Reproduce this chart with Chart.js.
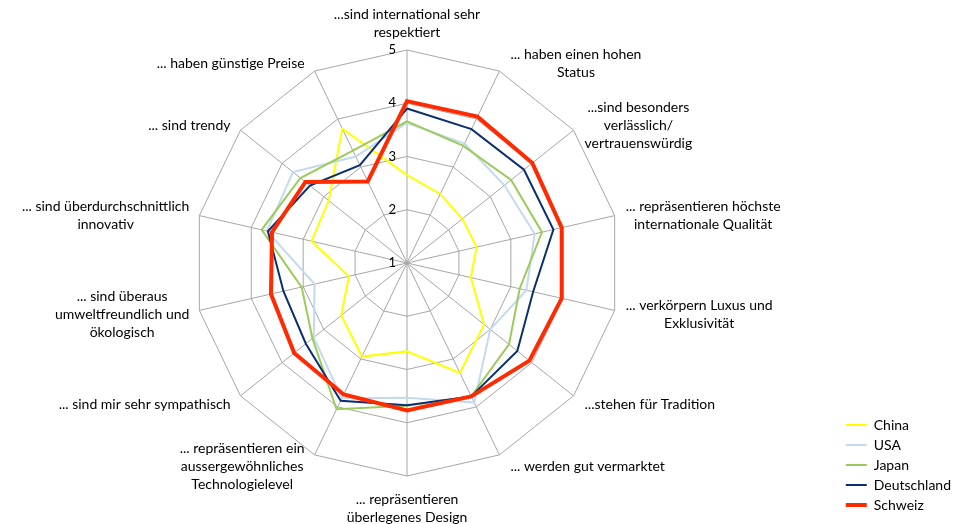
<!DOCTYPE html>
<html><head><meta charset="utf-8">
<script src="https://cdn.jsdelivr.net/npm/chart.js@4"></script>
<style>html,body{margin:0;padding:0;background:#fff}#wrap{position:relative;width:965px;height:524px}</style>
</head><body><div id="wrap"><canvas id="c" width="965" height="524"></canvas></div>
<script>
const categories = [
  ['...sind international sehr', 'respektiert'],
  ['... haben einen hohen', 'Status'],
  ['...sind besonders', 'verlässlich/', 'vertrauenswürdig'],
  ['... repräsentieren höchste', 'internationale Qualität'],
  ['... verkörpern Luxus und', 'Exklusivität'],
  ['...stehen für Tradition'],
  ['... werden gut vermarktet'],
  ['... repräsentieren', 'überlegenes Design'],
  ['... repräsentieren ein', 'aussergewöhnliches', 'Technologielevel'],
  ['... sind mir sehr sympathisch'],
  ['... sind überaus', 'umweltfreundlich und', 'ökologisch'],
  ['... sind überdurchschnittlich', 'innovativ'],
  ['... sind trendy'],
  ['... haben günstige Preise']
];
const schweiz     = [4.04, 4.05, 4.01, 3.98, 3.98, 3.94, 3.78, 3.77, 3.74, 3.71, 3.62, 3.60, 3.44, 2.70];
const deutschland = [3.90, 3.79, 3.81, 3.82, 3.43, 3.65, 3.78, 3.67, 3.87, 3.43, 3.38, 3.68, 3.33, 3.04];
const japan       = [3.66, 3.44, 3.50, 3.60, 3.17, 3.45, 3.78, 3.68, 4.05, 3.27, 3.03, 3.80, 3.56, 3.34];
const usa         = [3.63, 3.49, 3.34, 3.46, 3.30, 3.00, 3.91, 3.53, 3.82, 3.24, 2.78, 3.70, 3.74, 3.22];
const china       = [2.65, 2.44, 2.33, 2.34, 2.23, 2.85, 3.29, 2.66, 2.95, 2.58, 2.12, 2.84, 2.88, 3.80];
const tickMin = 1, tickMax = 5, tickStep = 1;

const FONT = 'Lato';

const radarText = {
  id: 'radarText',
  afterDraw(chart) {
    const s = chart.scales.r, ctx = chart.ctx;
    ctx.save();
    ctx.fillStyle = '#000';
    ctx.textBaseline = 'middle';
    ctx.textAlign = 'right';
    ctx.font = '13px ' + FONT;
    s.ticks.forEach(t => {
      const d = s.getDistanceFromCenterForValue(t.value);
      ctx.fillText(t.label, s.xCenter - 11, s.yCenter - d);
    });
    ctx.font = '14px ' + FONT;
    const lh = 18;
    ctx.textAlign = 'center';
    chart.data.labels.forEach((lab, i) => {
      const lines = Array.isArray(lab) ? lab : [lab];
      const a = s.getIndexAngle(i);
      const sin = Math.sin(a), cos = Math.cos(a);
      const v = s.getPointPosition(i, s.drawingArea);
      const w = Math.max(...lines.map(l => ctx.measureText(l).width));
      const h = lines.length * lh;
      let cx, cy;
      if (Math.abs(sin) < 0.01) {
        cx = v.x;
        cy = cos > 0 ? v.y - 9 - h / 2 : v.y + 14 + h / 2;
      } else {
        cx = sin > 0 ? v.x + 11 + w / 2 : v.x - 10 - w / 2;
        cy = v.y + 2 - 11 * cos;
      }
      lines.forEach((l, k) => ctx.fillText(l, cx, cy - h / 2 + lh * (k + 0.5)));
    });
    ctx.restore();
  }
};

new Chart(document.getElementById('c'), {
  type: 'radar',
  data: {
    labels: categories,
    datasets: [
      {label: 'Schweiz', data: schweiz, borderColor: '#ff2a00', borderWidth: 4},
      {label: 'Deutschland', data: deutschland, borderColor: '#0b2f6e', borderWidth: 2},
      {label: 'Japan', data: japan, borderColor: '#9bcb5a', borderWidth: 2},
      {label: 'USA', data: usa, borderColor: '#c3daf0', borderWidth: 2},
      {label: 'China', data: china, borderColor: '#ffff00', borderWidth: 2}
    ]
  },
  options: {
    responsive: false,
    animation: false,
    elements: {line: {tension: 0, fill: false, backgroundColor: 'transparent', borderJoinStyle: 'miter'}, point: {radius: 0, hoverRadius: 0}},
    layout: {padding: {right: 4, bottom: 6}},
    plugins: {
      tooltip: {enabled: false},
      legend: {
        position: 'right', align: 'end', reverse: true,
        labels: {usePointStyle: true, pointStyle: 'line', pointStyleWidth: 21, color: '#000', padding: 6,
                 font: {family: FONT, size: 14}}
      }
    },
    scales: {
      r: {
        min: tickMin, max: tickMax,
        ticks: {stepSize: tickStep, display: false},
        grid: {color: '#a6a6a6', lineWidth: 1},
        angleLines: {color: '#a6a6a6', lineWidth: 1},
        pointLabels: {display: false},
        afterFit(scale) { scale.xCenter = 407; scale.yCenter = 263; scale.drawingArea = 213; }
      }
    }
  },
  plugins: [radarText]
});
</script></body></html>
